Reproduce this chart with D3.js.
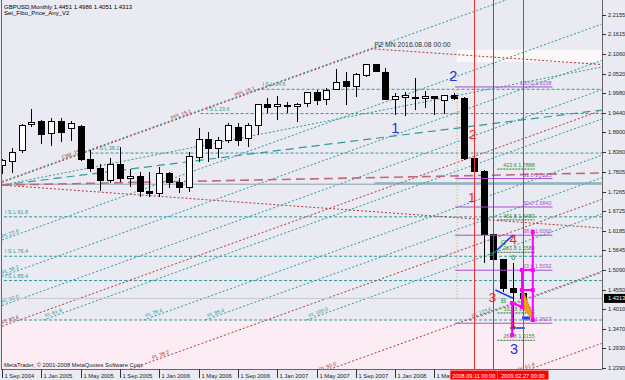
<!DOCTYPE html>
<html>
<head>
<meta charset="utf-8">
<script src="https://cdnjs.cloudflare.com/ajax/libs/d3/7.8.5/d3.min.js"></script>
<style>
  html, body { margin: 0; padding: 0; background: #eaeaf2; }
  svg { display: block; font-family: "Liberation Sans", Arial, sans-serif; }
</style>
</head>
<body>
<div id="chart"></div>
<script>
// ---- data (bar index 0 = Sep 2004, monthly) ----
const openP  = [1.7985,1.8110,1.8390,1.9110,1.9195,1.8860,1.9215,1.9000,1.9060,1.8160,1.7900,1.7560,1.8025,1.7615,1.7675,1.7280,1.7220,1.7770,1.7520,1.7385,1.8215,1.8710,1.8460,1.8690,1.9045,1.8720,1.9080,1.9660,1.9610,1.9650,1.9610,1.9705,2.0010,1.9800,2.0100,2.0300,2.0165,2.0470,2.0790,2.0565,1.9820,1.9870,1.9870,1.9835,1.9890,1.9780,1.9935,1.9830,1.8186,1.7816,1.6066,1.5375,1.4590,1.4451];
const highP  = [1.8180,1.8470,1.9130,1.9555,1.9245,1.9290,1.9310,1.9210,1.9100,1.8415,1.8025,1.8205,1.8505,1.7880,1.7815,1.7815,1.7935,1.7815,1.7635,1.8360,1.9030,1.8920,1.8785,1.9155,1.9155,1.9155,1.9680,1.9845,1.9910,1.9750,1.9705,2.0030,2.0073,2.0120,2.0645,2.0580,2.0535,2.0795,2.0800,2.0675,1.9985,2.0005,2.0395,2.0055,1.9910,1.9945,1.9980,1.9870,1.8200,1.7850,1.6160,1.5400,1.5300,1.4986];
const lowP   = [1.7760,1.7780,1.8330,1.9050,1.8580,1.8530,1.8645,1.8670,1.8100,1.7815,1.7290,1.7495,1.7540,1.7385,1.7125,1.7125,1.7125,1.7365,1.7220,1.7265,1.8090,1.8090,1.8185,1.8600,1.8525,1.8505,1.8830,1.9445,1.9245,1.9430,1.9190,1.9610,1.9660,1.9660,2.0070,1.9660,1.9890,2.0440,2.0560,1.9795,1.9385,1.9355,1.9520,1.9570,1.9385,1.9410,1.9795,1.8150,1.7780,1.5285,1.5240,1.4500,1.3500,1.4051];
const closeP = [1.8120,1.8340,1.9105,1.9185,1.8850,1.9215,1.8890,1.9160,1.8160,1.7900,1.7565,1.8020,1.7640,1.7675,1.7280,1.7220,1.7770,1.7530,1.7375,1.8230,1.8710,1.8460,1.8690,1.9105,1.8690,1.9080,1.9660,1.9585,1.9660,1.9610,1.9685,2.0010,1.9795,2.0070,2.0285,2.0165,2.0490,2.0790,2.0580,1.9820,1.9890,1.9910,1.9825,1.9890,1.9835,1.9935,1.9845,1.8186,1.7816,1.6066,1.5375,1.4593,1.4480,1.4313];

const dateTickBars = [0,4,8,12,16,20,24,28,32,36,40,44];
const dateTickLabels = ["1 Sep 2004","1 Jan 2005","1 May 2005","1 Sep 2005","1 Jan 2006","1 May 2006","1 Sep 2006","1 Jan 2007","1 May 2007","1 Sep 2007","1 Jan 2008","1 May 2008"];
const priceTicks = [2.2155,2.1615,2.1060,2.0520,1.9980,1.9440,1.8900,1.8360,1.7805,1.7265,1.6725,1.6185,1.5645,1.5090,1.4550,1.4010,1.3470,1.2930,1.2390];
const lastPrice = 1.4313;

// horizontal ISL levels
const islNames  = ["I S L 14.6","I S L 23.6","I S L 38.2","I S L 61.8","I S L 76.4","I S L 85.4",""];
const islPrices = [2.0093,1.9421,1.8330,1.6568,1.5478,1.4806,1.3716];
const islStart  = [25.9,20.2,9.0,-0.3,-0.3,-0.3,-0.3];

// parallel lines [bar1, price1, bar2, price2]
const tealPL = [[0,1.7547,61,2.3513],[0,1.5927,61,2.1893],[0,1.4924,61,2.0890],[0,1.4114,61,2.0080],[4.2,1.3716,61,1.9270],[14.4,1.3716,61,1.8267],[20.7,1.3716,61,1.7649],[31.0,1.3716,61,1.6648],[47.6,1.3716,61,1.5027]];
const tealPLNames = ["","PL 23.6","PL 38.2","PL 50.0","PL 61.8","PL 76.4","PL 85.4","PL 100.0","PL 123.6"];
const tealPLLabelBar = [0,0.1,0.1,0.1,4.5,14.7,21.0,31.3,47.9];
const maroonPL = [[0,1.7522,38.5,2.1288],[0,1.3543,61,1.9509],[0,1.1081,61,1.7047],[0,0.9092,61,1.5058],[0,0.7103,61,1.3069]];
const maroonNames = ["CWL 15.1","PPL 15.1","PPL 15.1","PL 23.6","PL 38.2","PL 50.0","PL 61.8"];
const maroonNameLine = [0,0,0,1,2,3,4];
const maroonNameBar = [6.2,17.3,23.8,0.1,15.4,32.4,52.6];
const maroonDown = [[0,1.7445,61,1.6259],[37.9,2.1207,61,2.0778]];
const tealFan = [[0,1.7445,61,2.0709]];
const brownDash = [[0,1.7445,61,1.7779]];
const tealDash = [[0,1.7445,61,1.9521]];
const grayLevel = [[-0.3,1.7470,61,1.7470]];
const steelLevel = [[37.9,1.7503,61,1.7503]];

// zones [bar1, bar2, priceHigh, priceLow]
const pinkZone = [-1,62,1.3716,1.20];
const pzZone = [46.3,62,2.1183,2.0847];

// fibo levels
const fiboNames = ["100.0","61.8","50.0","38.2","23.6","0.0"];
const fiboPrices = [2.0158,1.7625,1.6840,1.6060,1.5092,1.3627];
const fiboBars = [46.1,56.0];
const extNames = ["423.6","461.8","361.8","161.8","261.8"];
const extPrices = [1.7888,1.6483,1.5588,1.3911,1.3155];
const extBars = [50.4,54.2];

// vertical markers
const redLineBars = [48,50,53];
const redLineDates = ["2008.09.11 00:00","","2009.02.27 00:00"];
const orangeLine = [46.3,2.0158,46.3,1.4269];

// wave marks
const blueWaveLabels = ["1","2","3"];
const blueWaveBars = [40.0,45.9,52.1];
const blueWavePrices = [1.9023,2.0460,1.2925];
const redWaveLabels = ["2","1","4","3","5"];
const redWaveBars = [47.9,47.8,52.0,49.9,52.0];
const redWavePrices = [1.8857,1.7116,1.5955,1.4352,1.3523];
const greenWaveLabels = ["C","a","6","B"];
const greenWaveBars = [51.0,49.8,52.0,51.0];
const greenWavePrices = [1.5872,1.5568,1.5440,1.4269];

const blueSegs = [[50.0,1.5560,52.0,1.6066],[50.2,1.4545,52.0,1.4316],[51.7,1.3495,53.2,1.3495]];
const blueThick = [[52.9,1.3772,53.7,1.3772]];
const magentaSegs = [[54.0,1.6149,54.0,1.3716],[52.9,1.5098,54.0,1.5098],[52.9,1.5098,52.9,1.4075],[52.9,1.4545,54.0,1.4545],[51.9,1.4186,52.9,1.4075],[51.9,1.4186,51.9,1.3302]];
const orangeTri = [[52.87,1.4636],[53.03,1.4039],[54.22,1.3671]];

const pzText = "PZ MN  2016.08.08 00:00";
const pzPos = [37.9,2.1262];

// ---- layout ----
const W = 625, H = 380;
const plotL = 1, plotR = 602, plotB = 369;
const x = d3.scaleLinear().domain([0, 61]).range([2, 601.6]);
const y = d3.scaleLinear().domain([1.2362, 2.2561]).range([plotB, 0]);

const TEAL = '#2f9a9a', MAROON = '#b03a3a', PURPLE = '#a64fd0', GREEN = '#3a8a3a';

const svg = d3.select('#chart').append('svg').attr('width', W).attr('height', H);
svg.append('rect').attr('width', W).attr('height', H).attr('fill', '#eaeaf2');
const defs = svg.append('defs');
defs.append('clipPath').attr('id', 'plot')
  .append('rect').attr('x', plotL).attr('y', 0).attr('width', plotR - plotL).attr('height', plotB);
const g = svg.append('g').attr('clip-path', 'url(#plot)');

function zone(z, fill) {
  g.append('rect').attr('x', x(z[0])).attr('y', y(z[2]))
    .attr('width', x(z[1]) - x(z[0])).attr('height', y(z[3]) - y(z[2])).attr('fill', fill);
}
zone(pinkZone, '#fbedf3');
zone(pzZone, '#fdf8f8');

function segs(list, stroke, width, dash) {
  g.append('g').selectAll('line').data(list).enter().append('line')
    .attr('x1', d => x(d[0])).attr('y1', d => y(d[1]))
    .attr('x2', d => x(d[2])).attr('y2', d => y(d[3]))
    .attr('stroke', stroke).attr('stroke-width', width)
    .attr('stroke-dasharray', dash || null);
}
function along(d, m) { return d[1] + (d[3] - d[1]) * (m - d[0]) / (d[2] - d[0]); }
function angle(d) { return Math.atan2(y(d[3]) - y(d[1]), x(d[2]) - x(d[0])) * 180 / Math.PI; }
function slopedLabel(d, m, txt, color) {
  const px = x(m), py = y(along(d, m));
  g.append('text').attr('transform', `translate(${px},${py}) rotate(${angle(d)})`)
    .attr('dy', -1.5).attr('font-size', 5.2).attr('fill', color).text(txt);
}

// ISL horizontals
islPrices.forEach((p, i) => {
  g.append('line').attr('x1', x(islStart[i])).attr('x2', x(61.5)).attr('y1', y(p)).attr('y2', y(p))
    .attr('stroke', TEAL).attr('stroke-width', 1).attr('stroke-dasharray', '3,2');
  if (islNames[i]) {
    g.append('text').attr('x', x(islStart[i]) + 6).attr('y', y(p) - 3)
      .attr('font-size', 5.4).attr('fill', TEAL).text(islNames[i]);
  }
});

// fan / channel lines
segs(tealPL, TEAL, 1, '2,2');
tealPL.forEach((d, i) => { if (tealPLNames[i]) slopedLabel(d, tealPLLabelBar[i], tealPLNames[i], TEAL); });
segs(tealFan, TEAL, 1, '2,2');
segs(maroonPL, MAROON, 1, '2,2');
maroonNames.forEach((n, i) => slopedLabel(maroonPL[maroonNameLine[i]], maroonNameBar[i], n, MAROON));
segs(maroonDown, MAROON, 1, '2,2');
segs(grayLevel, '#8aa0b0', 1);
segs(steelLevel, '#4a9aaa', 1);
segs(tealDash, TEAL, 1.2, '8,5');
segs(brownDash, '#c06a78', 1.6, '9,5');

// last price line
g.append('line').attr('x1', plotL).attr('x2', plotR).attr('y1', y(lastPrice)).attr('y2', y(lastPrice))
  .attr('stroke', '#c8c8c8').attr('stroke-width', 1);

// candles
const bw = 6.4;
const candles = g.append('g').attr('shape-rendering', 'crispEdges');
openP.forEach((o, i) => {
  const c = closeP[i], cx = Math.round(x(i)) + 0.5;
  candles.append('line').attr('x1', cx).attr('x2', cx).attr('y1', y(highP[i])).attr('y2', y(lowP[i]))
    .attr('stroke', '#000').attr('stroke-width', 1);
  const top = y(Math.max(o, c)), h = Math.max(1, Math.abs(y(o) - y(c)));
  candles.append('rect').attr('x', cx - bw / 2).attr('y', top).attr('width', bw).attr('height', h)
    .attr('fill', c >= o ? '#ffffff' : '#000000').attr('stroke', '#000').attr('stroke-width', 1);
});

// orange dotted vertical
segs([orangeLine], '#f0a030', 1, '1,2');

// fibo levels (purple)
fiboPrices.forEach((p, i) => {
  g.append('line').attr('x1', x(fiboBars[0])).attr('x2', x(fiboBars[1])).attr('y1', y(p)).attr('y2', y(p))
    .attr('stroke', PURPLE).attr('stroke-width', 1);
  g.append('text').attr('x', x(fiboBars[1]) - 1).attr('y', y(p) - 2).attr('text-anchor', 'end')
    .attr('font-size', 5.4).attr('fill', PURPLE).text(fiboNames[i] + '  ' + p.toFixed(4));
});
// extension levels (green)
extPrices.forEach((p, i) => {
  g.append('line').attr('x1', x(extBars[0])).attr('x2', x(extBars[1])).attr('y1', y(p)).attr('y2', y(p))
    .attr('stroke', '#2f6f2f').attr('stroke-width', 1).attr('stroke-dasharray', '2,1');
  g.append('text').attr('x', x(extBars[1])).attr('y', y(p) - 2).attr('text-anchor', 'end')
    .attr('font-size', 5.4).attr('fill', GREEN).text(extNames[i] + '  ' + p.toFixed(4));
});

// wave structure
g.append('polygon').attr('points', orangeTri.map(d => [x(d[0]), y(d[1])].join(',')).join(' '))
  .attr('fill', '#f3a020').attr('stroke', '#e08a10');
segs(magentaSegs, '#ff00ff', 2);
const mPts = [];
magentaSegs.forEach(d => { mPts.push([d[0], d[1]]); mPts.push([d[2], d[3]]); });
g.append('g').selectAll('rect').data(mPts).enter().append('rect')
  .attr('x', d => x(d[0]) - 2).attr('y', d => y(d[1]) - 2).attr('width', 4).attr('height', 4)
  .attr('fill', '#ff00ff');
segs(blueSegs, '#1f3fe0', 1.6);
segs(blueThick, '#1f3fe0', 3);

function waveText(labels, bars, prices, color, size) {
  g.append('g').selectAll('text').data(labels).enter().append('text')
    .attr('x', (d, i) => x(bars[i])).attr('y', (d, i) => y(prices[i]))
    .attr('text-anchor', 'middle').attr('dominant-baseline', 'central')
    .attr('font-size', (d, i) => (d === '5' ? size * 0.75 : size)).attr('fill', color).text(d => d);
}
waveText(greenWaveLabels, greenWaveBars, greenWavePrices, '#3a9a3a', 8);
waveText(blueWaveLabels, blueWaveBars, blueWavePrices, '#2a2ae0', 14.5);
waveText(redWaveLabels, redWaveBars, redWavePrices, '#f02424', 13.5);

// red vertical lines
g.append('g').attr('shape-rendering', 'crispEdges')
  .selectAll('line').data(redLineBars).enter().append('line')
  .attr('x1', d => Math.round(x(d)) + 0.5).attr('x2', d => Math.round(x(d)) + 0.5)
  .attr('y1', 0).attr('y2', plotB)
  .attr('stroke', (d, i) => i === 1 ? '#c83030' : '#f03030').attr('stroke-width', 1);

// PZ label
g.append('text').attr('x', x(pzPos[0])).attr('y', y(pzPos[1])).attr('font-size', 6.8)
  .attr('fill', '#333').text(pzText);

// frame
svg.append('line').attr('x1', plotL + 0.5).attr('x2', plotL + 0.5).attr('y1', 0).attr('y2', plotB).attr('stroke', '#666');
svg.append('line').attr('x1', plotR + 0.5).attr('x2', plotR + 0.5).attr('y1', 0).attr('y2', plotB + 0.5).attr('stroke', '#666');
svg.append('line').attr('x1', plotL).attr('x2', plotR).attr('y1', plotB + 0.5).attr('y2', plotB + 0.5).attr('stroke', '#666');

// price axis
const yAx = svg.append('g');
priceTicks.forEach(p => {
  yAx.append('line').attr('x1', plotR).attr('x2', plotR + 4).attr('y1', Math.round(y(p)) + 0.5).attr('y2', Math.round(y(p)) + 0.5).attr('stroke', '#333');
  yAx.append('text').attr('x', plotR + 6).attr('y', y(p)).attr('dy', '0.35em')
    .attr('font-size', 5.6).attr('fill', '#222').text(p.toFixed(4));
});
yAx.append('rect').attr('x', plotR + 2).attr('y', y(lastPrice) - 4.5).attr('width', 22).attr('height', 9).attr('fill', '#000');
yAx.append('text').attr('x', plotR + 6).attr('y', y(lastPrice)).attr('dy', '0.35em')
  .attr('font-size', 5.6).attr('fill', '#fff').text(lastPrice.toFixed(4));

// time axis (labels hidden under the cursor boxes are clipped there, as in the terminal)
const firstBoxLeft = x(redLineBars[0]) - 23.5;
defs.append('clipPath').attr('id', 'timeaxis')
  .append('rect').attr('x', 0).attr('y', plotB).attr('width', firstBoxLeft).attr('height', H - plotB);
const xAx = svg.append('g');
const xLab = xAx.append('g').attr('clip-path', 'url(#timeaxis)');
dateTickBars.forEach((b, i) => {
  const tx = Math.round(x(b)) + 0.5;
  xAx.append('line').attr('x1', tx).attr('x2', tx).attr('y1', plotB).attr('y2', 378).attr('stroke', '#333');
  xLab.append('text').attr('x', tx + 2).attr('y', 377.5).attr('font-size', 5.8).attr('fill', '#222').text(dateTickLabels[i]);
});
redLineBars.forEach((b, i) => {
  if (!redLineDates[i]) return;
  const cx = x(b), w = i === 0 ? 47 : 51;
  xAx.append('rect').attr('x', cx - w / 2).attr('y', 370.5).attr('width', w).attr('height', 9).attr('fill', '#ff0000');
  xAx.append('text').attr('x', cx).attr('y', 377.5).attr('text-anchor', 'middle')
    .attr('font-size', 5.6).attr('fill', '#fff').text(redLineDates[i]);
});

// header & footer
svg.append('text').attr('x', 4).attr('y', 8.5).attr('font-size', 6).attr('fill', '#000')
  .text('GBPUSD,Monthly  1.4451 1.4986 1.4051 1.4313');
svg.append('text').attr('x', 4).attr('y', 15).attr('font-size', 6).attr('fill', '#000')
  .text('Set_Fibo_Price_Any_V2');
svg.append('text').attr('x', 4).attr('y', 366.5).attr('font-size', 5.8).attr('fill', '#222')
  .text('MetaTrader, © 2001-2008 MetaQuotes Software Corp.');
</script>
</body>
</html>
